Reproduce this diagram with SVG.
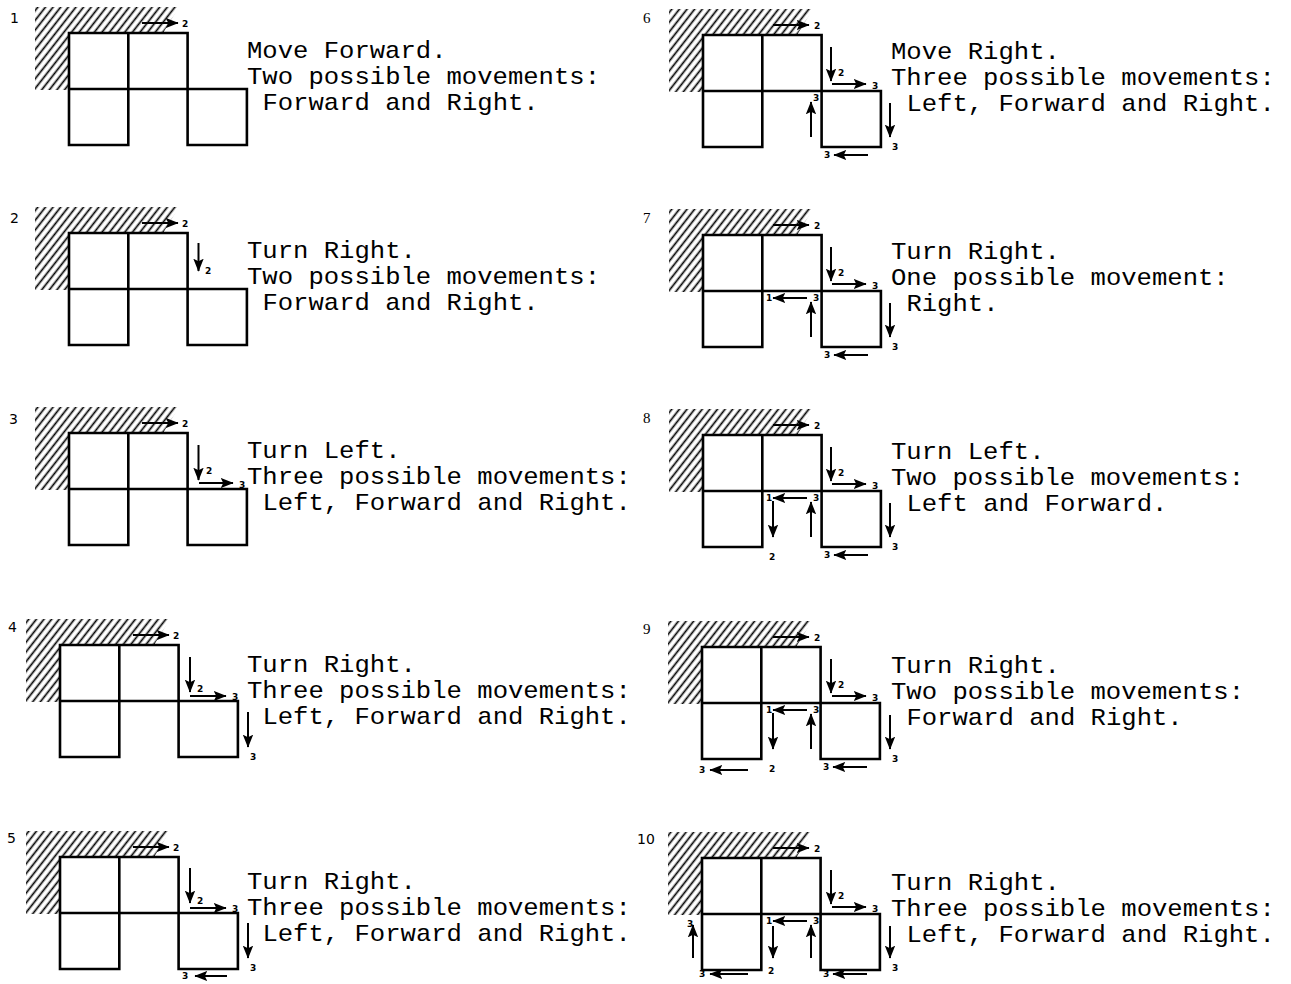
<svg xmlns="http://www.w3.org/2000/svg" xmlns:xlink="http://www.w3.org/1999/xlink" width="1291" height="984" viewBox="0 0 1291 984">
<style>
.grid{stroke:#000;stroke-width:2.6;fill:none;stroke-linecap:square}
.arr{stroke:#000;stroke-width:2;fill:none;marker-end:url(#ah)}
.lbl{font-family:"DejaVu Sans",sans-serif;font-weight:bold;font-size:9px;fill:#000}
.txt{font-family:"Liberation Mono","Courier New",monospace;font-size:24px;fill:#000}
.num{font-family:"DejaVu Sans",sans-serif;font-size:14px;fill:#000}
.nums{font-family:"Liberation Serif",serif;font-size:15px;fill:#000}
</style>
<defs>
<marker id="ah" viewBox="0 0 10 10" refX="9.5" refY="5" markerWidth="13" markerHeight="13" markerUnits="userSpaceOnUse" orient="auto"><path d="M0,1 L10,5 L0,9 L2,5 z" fill="#000"/></marker>
<pattern id="hp" width="6" height="10" patternUnits="userSpaceOnUse" patternTransform="rotate(38)"><line x1="1.5" y1="-1" x2="1.5" y2="11" stroke="#000" stroke-width="1.7"/></pattern>
<polygon id="hatch" points="-34,-26 110,-26 94,0 0,0 0,57 -34,57" fill="url(#hp)"/>
<path id="grid" class="grid" d="M0,0 H118.6 M0,56 H177.9 M0,0 V112 M59.3,0 V112 M118.6,0 V112 M177.9,56 V112 M0,112 H59.3 M118.6,112 H177.9"/>
</defs>
<rect width="1291" height="984" fill="#fff"/>

<g id="panel-1">
<text class="num" x="10" y="23">1</text>
<g transform="translate(69,33)">
<use href="#hatch"/><use href="#grid"/>
<g class="arrows"><path class="arr" d="M73,-10 H109"/><text class="lbl" x="113" y="-6">2</text></g>
</g>
<text class="txt" x="247" y="58" textLength="199.5" lengthAdjust="spacingAndGlyphs">Move Forward.</text>
<text class="txt" x="247" y="84" textLength="353" lengthAdjust="spacingAndGlyphs">Two possible movements:</text>
<text class="txt" x="262.4" y="110" textLength="276.3" lengthAdjust="spacingAndGlyphs">Forward and Right.</text>
</g>

<g id="panel-2">
<text class="num" x="10" y="223">2</text>
<g transform="translate(69,233)">
<use href="#hatch"/><use href="#grid"/>
<g class="arrows"><path class="arr" d="M73,-10 H109"/><text class="lbl" x="113" y="-6">2</text>
<path class="arr" d="M129.5,10 V38"/><text class="lbl" x="136" y="41">2</text></g>
</g>
<text class="txt" x="247" y="258" textLength="168.9" lengthAdjust="spacingAndGlyphs">Turn Right.</text>
<text class="txt" x="247" y="284" textLength="353" lengthAdjust="spacingAndGlyphs">Two possible movements:</text>
<text class="txt" x="262.4" y="310" textLength="276.3" lengthAdjust="spacingAndGlyphs">Forward and Right.</text>
</g>

<g id="panel-3">
<text class="num" x="9" y="424">3</text>
<g transform="translate(69,433)">
<use href="#hatch"/><use href="#grid"/>
<g class="arrows"><path class="arr" d="M73,-10 H109"/><text class="lbl" x="113" y="-6">2</text>
<path class="arr" d="M129.5,12 V47"/><text class="lbl" x="137" y="41">2</text>
<path class="arr" d="M130,50 H164"/><text class="lbl" x="170" y="55">3</text></g>
</g>
<text class="txt" x="247" y="458" textLength="153.5" lengthAdjust="spacingAndGlyphs">Turn Left.</text>
<text class="txt" x="247" y="484" textLength="383.8" lengthAdjust="spacingAndGlyphs">Three possible movements:</text>
<text class="txt" x="262.4" y="510" textLength="368.4" lengthAdjust="spacingAndGlyphs">Left, Forward and Right.</text>
</g>

<g id="panel-4">
<text class="num" x="8" y="632">4</text>
<g transform="translate(60,645)">
<use href="#hatch"/><use href="#grid"/>
<g class="arrows"><path class="arr" d="M73,-10 H109"/><text class="lbl" x="113" y="-6">2</text>
<path class="arr" d="M130,12 V47"/><text class="lbl" x="137" y="47">2</text>
<path class="arr" d="M130,51 H166"/><text class="lbl" x="172" y="55">3</text>
<path class="arr" d="M188,67 V102"/><text class="lbl" x="190" y="115">3</text></g>
</g>
<text class="txt" x="247" y="672" textLength="168.9" lengthAdjust="spacingAndGlyphs">Turn Right.</text>
<text class="txt" x="247" y="698" textLength="383.8" lengthAdjust="spacingAndGlyphs">Three possible movements:</text>
<text class="txt" x="262.4" y="724" textLength="368.4" lengthAdjust="spacingAndGlyphs">Left, Forward and Right.</text>
</g>

<g id="panel-5">
<text class="num" x="7" y="843">5</text>
<g transform="translate(60,857)">
<use href="#hatch"/><use href="#grid"/>
<g class="arrows"><path class="arr" d="M73,-10 H109"/><text class="lbl" x="113" y="-6">2</text>
<path class="arr" d="M130,11 V46"/><text class="lbl" x="137" y="47">2</text>
<path class="arr" d="M130,51 H166"/><text class="lbl" x="172" y="55">3</text>
<path class="arr" d="M188,66 V101"/><text class="lbl" x="190" y="114">3</text>
<path class="arr" d="M167,119 H135"/><text class="lbl" x="122" y="122">3</text></g>
</g>
<text class="txt" x="247" y="889" textLength="168.9" lengthAdjust="spacingAndGlyphs">Turn Right.</text>
<text class="txt" x="247" y="915" textLength="383.8" lengthAdjust="spacingAndGlyphs">Three possible movements:</text>
<text class="txt" x="262.4" y="941" textLength="368.4" lengthAdjust="spacingAndGlyphs">Left, Forward and Right.</text>
</g>

<g id="panel-6">
<text class="nums" x="643" y="23">6</text>
<g transform="translate(703,35)">
<use href="#hatch"/><use href="#grid"/>
<g class="arrows"><path class="arr" d="M70,-10 H106"/><text class="lbl" x="111" y="-6">2</text>
<path class="arr" d="M128,12 V46"/><text class="lbl" x="135" y="41">2</text>
<path class="arr" d="M129,49 H163"/><text class="lbl" x="169" y="54">3</text>
<path class="arr" d="M187,68 V102"/><text class="lbl" x="189" y="115">3</text>
<path class="arr" d="M165,120 H131"/><text class="lbl" x="121" y="123">3</text>
<path class="arr" d="M108,102 V67"/><text class="lbl" x="110" y="66">3</text></g>
</g>
<text class="txt" x="891" y="59" textLength="168.9" lengthAdjust="spacingAndGlyphs">Move Right.</text>
<text class="txt" x="891" y="85" textLength="383.8" lengthAdjust="spacingAndGlyphs">Three possible movements:</text>
<text class="txt" x="906.4" y="111" textLength="368.4" lengthAdjust="spacingAndGlyphs">Left, Forward and Right.</text>
</g>

<g id="panel-7">
<text class="nums" x="643" y="223">7</text>
<g transform="translate(703,235)">
<use href="#hatch"/><use href="#grid"/>
<g class="arrows"><path class="arr" d="M70,-10 H106"/><text class="lbl" x="111" y="-6">2</text>
<path class="arr" d="M128,12 V46"/><text class="lbl" x="135" y="41">2</text>
<path class="arr" d="M129,49 H163"/><text class="lbl" x="169" y="54">3</text>
<path class="arr" d="M187,68 V102"/><text class="lbl" x="189" y="115">3</text>
<path class="arr" d="M165,120 H131"/><text class="lbl" x="121" y="123">3</text>
<path class="arr" d="M108,102 V67"/><text class="lbl" x="110" y="66">3</text>
<path class="arr" d="M104,63 H70"/><text class="lbl" x="63" y="66">1</text></g>
</g>
<text class="txt" x="891" y="259" textLength="168.9" lengthAdjust="spacingAndGlyphs">Turn Right.</text>
<text class="txt" x="891" y="285" textLength="337.7" lengthAdjust="spacingAndGlyphs">One possible movement:</text>
<text class="txt" x="906.4" y="311" textLength="92.1" lengthAdjust="spacingAndGlyphs">Right.</text>
</g>

<g id="panel-8">
<text class="nums" x="643" y="423">8</text>
<g transform="translate(703,435)">
<use href="#hatch"/><use href="#grid"/>
<g class="arrows"><path class="arr" d="M70,-10 H106"/><text class="lbl" x="111" y="-6">2</text>
<path class="arr" d="M128,12 V46"/><text class="lbl" x="135" y="41">2</text>
<path class="arr" d="M129,49 H163"/><text class="lbl" x="169" y="54">3</text>
<path class="arr" d="M187,68 V102"/><text class="lbl" x="189" y="115">3</text>
<path class="arr" d="M165,120 H131"/><text class="lbl" x="121" y="123">3</text>
<path class="arr" d="M108,102 V67"/><text class="lbl" x="110" y="66">3</text>
<path class="arr" d="M104,63 H70"/><text class="lbl" x="63" y="66">1</text>
<path class="arr" d="M70,66 V102"/><text class="lbl" x="66" y="125">2</text></g>
</g>
<text class="txt" x="891" y="459" textLength="153.5" lengthAdjust="spacingAndGlyphs">Turn Left.</text>
<text class="txt" x="891" y="485" textLength="353" lengthAdjust="spacingAndGlyphs">Two possible movements:</text>
<text class="txt" x="906.4" y="511" textLength="261" lengthAdjust="spacingAndGlyphs">Left and Forward.</text>
</g>

<g id="panel-9">
<text class="nums" x="643" y="634">9</text>
<g transform="translate(702,647)">
<use href="#hatch"/><use href="#grid"/>
<g class="arrows"><path class="arr" d="M71,-10 H107"/><text class="lbl" x="112" y="-6">2</text>
<path class="arr" d="M129,12 V46"/><text class="lbl" x="136" y="41">2</text>
<path class="arr" d="M130,49 H164"/><text class="lbl" x="170" y="54">3</text>
<path class="arr" d="M188,68 V102"/><text class="lbl" x="190" y="115">3</text>
<path class="arr" d="M165,120 H131"/><text class="lbl" x="121" y="123">3</text>
<path class="arr" d="M109,102 V67"/><text class="lbl" x="111" y="66">3</text>
<path class="arr" d="M105,63 H71"/><text class="lbl" x="64" y="66">1</text>
<path class="arr" d="M71,66 V102"/><text class="lbl" x="67" y="125">2</text>
<path class="arr" d="M46,123 H8"/><text class="lbl" x="-3" y="126">3</text></g>
</g>
<text class="txt" x="891" y="673" textLength="168.9" lengthAdjust="spacingAndGlyphs">Turn Right.</text>
<text class="txt" x="891" y="699" textLength="353" lengthAdjust="spacingAndGlyphs">Two possible movements:</text>
<text class="txt" x="906.4" y="725" textLength="276.3" lengthAdjust="spacingAndGlyphs">Forward and Right.</text>
</g>

<g id="panel-10">
<text class="num" x="637" y="844">10</text>
<g transform="translate(702,858)">
<use href="#hatch"/><use href="#grid"/>
<g class="arrows"><path class="arr" d="M71,-10 H107"/><text class="lbl" x="112" y="-6">2</text>
<path class="arr" d="M129,12 V46"/><text class="lbl" x="136" y="41">2</text>
<path class="arr" d="M130,49 H164"/><text class="lbl" x="170" y="54">3</text>
<path class="arr" d="M188,68 V100"/><text class="lbl" x="190" y="113">3</text>
<path class="arr" d="M165,116 H131"/><text class="lbl" x="121" y="119">3</text>
<path class="arr" d="M109,100 V67"/><text class="lbl" x="111" y="66">3</text>
<path class="arr" d="M105,63 H71"/><text class="lbl" x="64" y="66">1</text>
<path class="arr" d="M71,68 V100"/><text class="lbl" x="66" y="116">2</text>
<path class="arr" d="M46,116 H8"/><text class="lbl" x="-3" y="119">3</text>
<path class="arr" d="M-9,100 V67"/><text class="lbl" x="-15" y="69">3</text></g>
</g>
<text class="txt" x="891" y="890" textLength="168.9" lengthAdjust="spacingAndGlyphs">Turn Right.</text>
<text class="txt" x="891" y="916" textLength="383.8" lengthAdjust="spacingAndGlyphs">Three possible movements:</text>
<text class="txt" x="906.4" y="942" textLength="368.4" lengthAdjust="spacingAndGlyphs">Left, Forward and Right.</text>
</g>
</svg>
